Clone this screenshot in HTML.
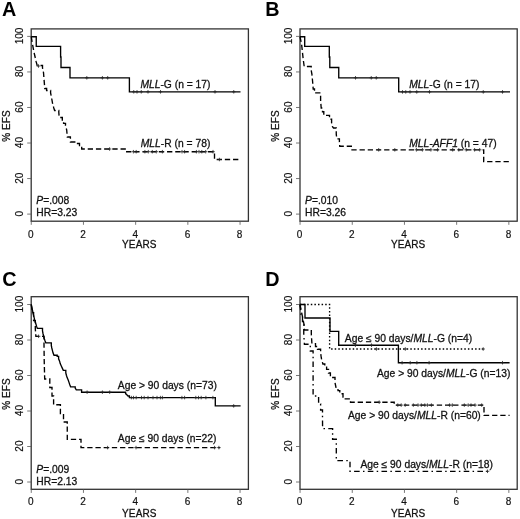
<!DOCTYPE html>
<html><head><meta charset="utf-8"><title>EFS</title>
<style>
html,body{margin:0;padding:0;background:#fff;}
body{width:520px;height:519px;overflow:hidden;}
svg{display:block;will-change:transform;}
text{font-family:"Liberation Sans",sans-serif;fill:#111;stroke:#111;stroke-width:0.28px;}
.ax{font-size:10px;letter-spacing:0.1px;}
.tk{font-size:10px;stroke-width:0.18px;}
.an{font-size:10.3px;}
.it{font-style:italic;}
.pl{font-size:19.8px;font-weight:bold;fill:#000;stroke:none;}
</style></head><body>
<svg width="520" height="519" viewBox="0 0 520 519">
<rect width="520" height="519" fill="#fff"/>
<rect x="31.20" y="28.90" width="217.20" height="192.30" fill="none" stroke="#333" stroke-width="1.3"/><path d="M31.25,221.20V224.80M83.45,221.20V224.80M135.65,221.20V224.80M187.85,221.20V224.80M240.05,221.20V224.80M31.20,214.10H27.20M31.20,178.56H27.20M31.20,143.02H27.20M31.20,107.48H27.20M31.20,71.94H27.20M31.20,36.40H27.20" stroke="#555" stroke-width="0.8" fill="none"/><text x="30.85" y="237.70" text-anchor="middle" class="tk">0</text><text x="83.05" y="237.70" text-anchor="middle" class="tk">2</text><text x="135.25" y="237.70" text-anchor="middle" class="tk">4</text><text x="187.45" y="237.70" text-anchor="middle" class="tk">6</text><text x="239.65" y="237.70" text-anchor="middle" class="tk">8</text><text x="139.30" y="248.30" text-anchor="middle" class="ax">YEARS</text><text transform="translate(22.70,213.70) rotate(-90)" text-anchor="middle" class="tk">0</text><text transform="translate(22.70,178.16) rotate(-90)" text-anchor="middle" class="tk">20</text><text transform="translate(22.70,142.62) rotate(-90)" text-anchor="middle" class="tk">40</text><text transform="translate(22.70,107.08) rotate(-90)" text-anchor="middle" class="tk">60</text><text transform="translate(22.70,71.54) rotate(-90)" text-anchor="middle" class="tk">80</text><text transform="translate(22.70,36.00) rotate(-90)" text-anchor="middle" class="tk">100</text><text transform="translate(10.20,126.05) rotate(-90)" text-anchor="middle" class="ax">% EFS</text><text x="1.9" y="15.9" class="pl">A</text>
<path d="M31.25,36.7H36.25V46.4H60.6V57H61V67.5H70V77.8H129.4V91.8H240.5" fill="none" stroke="#000" stroke-width="1.35"/>
<path d="M86.80,76.05V79.55M85.05,77.80H88.55M102.40,76.05V79.55M100.65,77.80H104.15M107.70,76.05V79.55M105.95,77.80H109.45M133.75,90.05V93.55M132.00,91.80H135.50M137.00,90.05V93.55M135.25,91.80H138.75M141.25,90.05V93.55M139.50,91.80H143.00M148.00,90.05V93.55M146.25,91.80H149.75M160.50,90.05V93.55M158.75,91.80H162.25M215.00,90.05V93.55M213.25,91.80H216.75M233.75,90.05V93.55M232.00,91.80H235.50" fill="none" stroke="#222" stroke-width="0.8"/>
<path d="M31.25,36.70L32.00,41.30L32.80,45.80L33.60,50.30L34.40,54.00L35.20,57.50L36.20,61.90L37.20,65.50H42.50V68.00L43.50,72.50L44.00,79.00L44.80,88.50H46.60V90.50H50.60V93.00L51.60,98.00L52.60,103.50L53.80,108.00L54.60,110.50H58.80V112.30L59.20,117.50H62.30V120.00H63.60V123.30H65.50V125.60L66.70,130.00L67.30,137.00H70.40V142.00H76.50V143.50H79.50V145.50H81.70V149.00H126.00V151.70H214.50V159.50H241.00" fill="none" stroke="#000" stroke-width="1.35" stroke-dasharray="5.3 2.9"/>
<path d="M109.60,147.25V150.75M107.85,149.00H111.35M133.40,149.95V153.45M131.65,151.70H135.15M136.20,149.95V153.45M134.45,151.70H137.95M144.90,149.95V153.45M143.15,151.70H146.65M148.30,149.95V153.45M146.55,151.70H150.05M152.30,149.95V153.45M150.55,151.70H154.05M156.30,149.95V153.45M154.55,151.70H158.05M162.40,149.95V153.45M160.65,151.70H164.15M182.00,149.95V153.45M180.25,151.70H183.75M184.60,149.95V153.45M182.85,151.70H186.35M196.40,149.95V153.45M194.65,151.70H198.15M199.00,149.95V153.45M197.25,151.70H200.75M201.80,149.95V153.45M200.05,151.70H203.55M205.70,149.95V153.45M203.95,151.70H207.45M213.00,149.95V153.45M211.25,151.70H214.75M219.40,157.75V161.25M217.65,159.50H221.15M38.50,64.25V67.75M36.75,66.00H40.25" fill="none" stroke="#222" stroke-width="0.8"/>
<text x="140.4" y="87.8" class="an"><tspan class="it">MLL</tspan>-G (n = 17)</text>
<text x="140.8" y="147.1" class="an"><tspan class="it">MLL</tspan>-R (n = 78)</text>
<text x="36.3" y="204.0" class="an"><tspan class="it">P</tspan>=.008</text>
<text x="36.3" y="216.3" class="an">HR=3.23</text>
<rect x="300.00" y="28.90" width="217.20" height="192.30" fill="none" stroke="#333" stroke-width="1.3"/><path d="M300.05,221.20V224.80M352.25,221.20V224.80M404.45,221.20V224.80M456.65,221.20V224.80M508.85,221.20V224.80M300.00,214.10H296.00M300.00,178.56H296.00M300.00,143.02H296.00M300.00,107.48H296.00M300.00,71.94H296.00M300.00,36.40H296.00" stroke="#555" stroke-width="0.8" fill="none"/><text x="299.65" y="237.70" text-anchor="middle" class="tk">0</text><text x="351.85" y="237.70" text-anchor="middle" class="tk">2</text><text x="404.05" y="237.70" text-anchor="middle" class="tk">4</text><text x="456.25" y="237.70" text-anchor="middle" class="tk">6</text><text x="508.45" y="237.70" text-anchor="middle" class="tk">8</text><text x="408.10" y="248.30" text-anchor="middle" class="ax">YEARS</text><text transform="translate(291.50,213.70) rotate(-90)" text-anchor="middle" class="tk">0</text><text transform="translate(291.50,178.16) rotate(-90)" text-anchor="middle" class="tk">20</text><text transform="translate(291.50,142.62) rotate(-90)" text-anchor="middle" class="tk">40</text><text transform="translate(291.50,107.08) rotate(-90)" text-anchor="middle" class="tk">60</text><text transform="translate(291.50,71.54) rotate(-90)" text-anchor="middle" class="tk">80</text><text transform="translate(291.50,36.00) rotate(-90)" text-anchor="middle" class="tk">100</text><text transform="translate(279.00,126.05) rotate(-90)" text-anchor="middle" class="ax">% EFS</text><text x="265.3" y="15.9" class="pl">B</text>
<path d="M300,36.7H304.7V46.4H329.3V57H329.8V67.5H338.75V77.8H398.7V91.9H510" fill="none" stroke="#000" stroke-width="1.35"/>
<path d="M355.50,76.05V79.55M353.75,77.80H357.25M371.25,76.05V79.55M369.50,77.80H373.00M376.25,76.05V79.55M374.50,77.80H378.00M402.50,90.15V93.65M400.75,91.90H404.25M405.75,90.15V93.65M404.00,91.90H407.50M410.00,90.15V93.65M408.25,91.90H411.75M416.75,90.15V93.65M415.00,91.90H418.50M429.50,90.15V93.65M427.75,91.90H431.25M483.25,90.15V93.65M481.50,91.90H485.00M502.50,90.15V93.65M500.75,91.90H504.25" fill="none" stroke="#222" stroke-width="0.8"/>
<path d="M300.00,36.70L300.80,40.50L301.60,44.30L302.40,51.80L303.20,59.30L304.20,66.50H311.20V70.30L311.90,74.00L312.60,81.50L313.20,89.00H314.50V92.90H320.60V100.40L321.20,108.00H322.50V111.70H323.80V115.40H329.50V119.20H331.60V123.00L332.50,126.70L333.50,128.00H336.25V134.20L336.80,138.80H339.40V142.00L339.75,146.20H351.30V149.80H483.70V161.60H510.00" fill="none" stroke="#000" stroke-width="1.35" stroke-dasharray="5.3 2.9"/>
<path d="M378.70,148.05V151.55M376.95,149.80H380.45M394.80,148.05V151.55M393.05,149.80H396.55M416.40,148.05V151.55M414.65,149.80H418.15M422.40,148.05V151.55M420.65,149.80H424.15M430.90,148.05V151.55M429.15,149.80H432.65M437.60,148.05V151.55M435.85,149.80H439.35M452.70,148.05V151.55M450.95,149.80H454.45M458.80,148.05V151.55M457.05,149.80H460.55M466.20,148.05V151.55M464.45,149.80H467.95M474.60,148.05V151.55M472.85,149.80H476.35M479.70,148.05V151.55M477.95,149.80H481.45" fill="none" stroke="#222" stroke-width="0.8"/>
<text x="409.3" y="87.8" class="an"><tspan class="it">MLL</tspan>-G (n = 17)</text>
<text x="409.3" y="146.7" class="an"><tspan class="it">MLL-AFF1</tspan> (n = 47)</text>
<text x="305.1" y="204.0" class="an"><tspan class="it">P</tspan>=.010</text>
<text x="305.1" y="216.3" class="an">HR=3.26</text>
<rect x="31.20" y="296.70" width="217.20" height="192.60" fill="none" stroke="#333" stroke-width="1.3"/><path d="M31.25,489.30V492.90M83.45,489.30V492.90M135.65,489.30V492.90M187.85,489.30V492.90M240.05,489.30V492.90M31.20,482.00H27.20M31.20,446.50H27.20M31.20,411.00H27.20M31.20,375.50H27.20M31.20,340.00H27.20M31.20,304.50H27.20" stroke="#555" stroke-width="0.8" fill="none"/><text x="30.85" y="505.40" text-anchor="middle" class="tk">0</text><text x="83.05" y="505.40" text-anchor="middle" class="tk">2</text><text x="135.25" y="505.40" text-anchor="middle" class="tk">4</text><text x="187.45" y="505.40" text-anchor="middle" class="tk">6</text><text x="239.65" y="505.40" text-anchor="middle" class="tk">8</text><text x="139.30" y="516.80" text-anchor="middle" class="ax">YEARS</text><text transform="translate(22.70,481.60) rotate(-90)" text-anchor="middle" class="tk">0</text><text transform="translate(22.70,446.10) rotate(-90)" text-anchor="middle" class="tk">20</text><text transform="translate(22.70,410.60) rotate(-90)" text-anchor="middle" class="tk">40</text><text transform="translate(22.70,375.10) rotate(-90)" text-anchor="middle" class="tk">60</text><text transform="translate(22.70,339.60) rotate(-90)" text-anchor="middle" class="tk">80</text><text transform="translate(22.70,304.10) rotate(-90)" text-anchor="middle" class="tk">100</text><text transform="translate(10.20,394.00) rotate(-90)" text-anchor="middle" class="ax">% EFS</text><text x="2.2" y="286.0" class="pl">C</text>
<path d="M31.25,304.50L31.80,307.00L32.30,309.40L32.80,311.80L33.30,314.30L33.90,316.70L34.50,319.10L35.20,321.50L35.90,324.00L36.60,326.40L37.30,328.30H42.50V331.00L43.00,333.50L43.60,336.00L44.20,338.40L45.00,340.80L45.80,342.80H51.30V345.50L51.80,348.00L52.40,350.40L53.00,352.80L54.00,355.20H57.20V356.40H58.60V358.80L59.60,361.20L60.20,363.60L61.30,366.00L62.40,368.40L63.30,370.40H65.80V372.80L66.40,375.20L67.10,377.60L68.20,380.00L69.00,382.40L69.80,384.80L70.60,386.80H75.20V388.00L76.30,389.80H81.60V392.20H125.60V393.60L126.80,394.80L128.00,396.00H129.40V397.60H215.30V405.90H240.60" fill="none" stroke="#000" stroke-width="1.35"/>
<path d="M87.10,390.45V393.95M85.35,392.20H88.85M102.40,390.45V393.95M100.65,392.20H104.15M109.70,390.45V393.95M107.95,392.20H111.45M131.40,395.85V399.35M129.65,397.60H133.15M133.50,395.85V399.35M131.75,397.60H135.25M136.20,395.85V399.35M134.45,397.60H137.95M141.50,395.85V399.35M139.75,397.60H143.25M144.20,395.85V399.35M142.45,397.60H145.95M148.00,395.85V399.35M146.25,397.60H149.75M153.00,395.85V399.35M151.25,397.60H154.75M157.00,395.85V399.35M155.25,397.60H158.75M160.40,395.85V399.35M158.65,397.60H162.15M162.40,395.85V399.35M160.65,397.60H164.15M181.90,395.85V399.35M180.15,397.60H183.65M184.60,395.85V399.35M182.85,397.60H186.35M195.80,395.85V399.35M194.05,397.60H197.55M198.50,395.85V399.35M196.75,397.60H200.25M201.20,395.85V399.35M199.45,397.60H202.95M205.90,395.85V399.35M204.15,397.60H207.65M212.90,395.85V399.35M211.15,397.60H214.65M233.70,404.15V407.65M231.95,405.90H235.45" fill="none" stroke="#222" stroke-width="0.8"/>
<path d="M31.25,304.50L32.30,312.60H33.60V320.60H35.30V328.70L35.90,336.30H44.00V344.00L44.10,352.00L44.20,360.00L44.40,368.00L44.70,379.00H49.80V387.50H52.00V396.00H53.60V404.75H60.40V413.50H63.50V422.00H67.25V430.50L67.30,439.40H81.00V447.60H219.80" fill="none" stroke="#000" stroke-width="1.35" stroke-dasharray="5.3 2.9"/>
<path d="M107.60,445.85V449.35M105.85,447.60H109.35M136.00,445.85V449.35M134.25,447.60H137.75M214.60,445.85V449.35M212.85,447.60H216.35M218.90,445.85V449.35M217.15,447.60H220.65M38.60,334.55V338.05M36.85,336.30H40.35" fill="none" stroke="#222" stroke-width="0.8"/>
<text x="117.8" y="388.9" class="an">Age &gt; 90 days (n=73)</text>
<text x="117.8" y="442.3" class="an">Age ≤ 90 days (n=22)</text>
<text x="36.3" y="472.8" class="an"><tspan class="it">P</tspan>=.009</text>
<text x="36.3" y="484.7" class="an">HR=2.13</text>
<rect x="300.00" y="296.70" width="217.20" height="192.60" fill="none" stroke="#333" stroke-width="1.3"/><path d="M300.05,489.30V492.90M352.25,489.30V492.90M404.45,489.30V492.90M456.65,489.30V492.90M508.85,489.30V492.90M300.00,482.00H296.00M300.00,446.50H296.00M300.00,411.00H296.00M300.00,375.50H296.00M300.00,340.00H296.00M300.00,304.50H296.00" stroke="#555" stroke-width="0.8" fill="none"/><text x="299.65" y="505.40" text-anchor="middle" class="tk">0</text><text x="351.85" y="505.40" text-anchor="middle" class="tk">2</text><text x="404.05" y="505.40" text-anchor="middle" class="tk">4</text><text x="456.25" y="505.40" text-anchor="middle" class="tk">6</text><text x="508.45" y="505.40" text-anchor="middle" class="tk">8</text><text x="408.10" y="516.80" text-anchor="middle" class="ax">YEARS</text><text transform="translate(291.50,481.60) rotate(-90)" text-anchor="middle" class="tk">0</text><text transform="translate(291.50,446.10) rotate(-90)" text-anchor="middle" class="tk">20</text><text transform="translate(291.50,410.60) rotate(-90)" text-anchor="middle" class="tk">40</text><text transform="translate(291.50,375.10) rotate(-90)" text-anchor="middle" class="tk">60</text><text transform="translate(291.50,339.60) rotate(-90)" text-anchor="middle" class="tk">80</text><text transform="translate(291.50,304.10) rotate(-90)" text-anchor="middle" class="tk">100</text><text transform="translate(279.00,394.00) rotate(-90)" text-anchor="middle" class="ax">% EFS</text><text x="265.3" y="286.0" class="pl">D</text>
<path d="M300,304.5H329.6V349.0H483.2" fill="none" stroke="#000" stroke-width="1.35" stroke-dasharray="1.5 2.1"/>
<path d="M376.40,347.25V350.75M374.65,349.00H378.15M405.30,347.25V350.75M403.55,349.00H407.05M483.20,347.25V350.75M481.45,349.00H484.95" fill="none" stroke="#222" stroke-width="0.8"/>
<path d="M300,304.5H305V318H330V331.3H338.7V345.2H398.4V362.7H509.6" fill="none" stroke="#000" stroke-width="1.35"/>
<path d="M402.10,360.95V364.45M400.35,362.70H403.85M410.20,360.95V364.45M408.45,362.70H411.95M416.90,360.95V364.45M415.15,362.70H418.65M429.10,360.95V364.45M427.35,362.70H430.85M502.50,360.95V364.45M500.75,362.70H504.25M355.40,343.45V346.95M353.65,345.20H357.15M371.50,343.45V346.95M369.75,345.20H373.25" fill="none" stroke="#222" stroke-width="0.8"/>
<path d="M300.00,304.50L300.60,307.50L301.20,310.40L301.80,313.40L302.40,316.30L303.00,319.30L303.60,322.30L304.20,325.20L304.50,330.00H311.30V333.60L311.60,338.60L311.90,343.60H315.50V346.50H317.50V349.20H320.60V352.00L320.90,355.00L321.30,358.00L321.90,360.50L322.90,364.00H324.80V366.00H326.60V369.40H328.50V373.00H330.40V377.50H335.00V382.50L335.60,385.50L336.20,388.75H338.00V390.60H339.80V393.75H343.00V397.00H344.40V398.90H350.50V402.20H394.20V405.10H484.00V415.40H509.60" fill="none" stroke="#000" stroke-width="1.35" stroke-dasharray="5.3 2.9"/>
<path d="M379.20,400.45V403.95M377.45,402.20H380.95M397.80,403.35V406.85M396.05,405.10H399.55M401.20,403.35V406.85M399.45,405.10H402.95M405.20,403.35V406.85M403.45,405.10H406.95M413.30,403.35V406.85M411.55,405.10H415.05M418.00,403.35V406.85M416.25,405.10H419.75M421.30,403.35V406.85M419.55,405.10H423.05M424.80,403.35V406.85M423.05,405.10H426.55M427.40,403.35V406.85M425.65,405.10H429.15M431.40,403.35V406.85M429.65,405.10H433.15M449.60,403.35V406.85M447.85,405.10H451.35M452.30,403.35V406.85M450.55,405.10H454.05M464.30,403.35V406.85M462.55,405.10H466.05M468.20,403.35V406.85M466.45,405.10H469.95M471.00,403.35V406.85M469.25,405.10H472.75M475.00,403.35V406.85M473.25,405.10H476.75M481.70,403.35V406.85M479.95,405.10H483.45" fill="none" stroke="#222" stroke-width="0.8"/>
<path d="M300.00,304.50L301.00,314.40H302.50V324.20H303.75V334.10L304.40,344.20H310.30V351.00H313.10V396.00H318.60V404.00H320.60V410.00H322.50V419.00L322.60,428.60H332.60V439.20H336.30V460.60H350.00V471.30H487.50" fill="none" stroke="#000" stroke-width="1.35" stroke-dasharray="5.6 3.3 1.5 3.3"/>
<path d="M487.50,469.55V473.05M485.75,471.30H489.25" fill="none" stroke="#222" stroke-width="0.8"/>
<text x="344.8" y="341.7" class="an">Age ≤ 90 days/<tspan class="it">MLL</tspan>-G (n=4)</text>
<text x="377.0" y="376.5" class="an">Age &gt; 90 days/<tspan class="it">MLL</tspan>-G (n=13)</text>
<text x="348.0" y="418.5" class="an">Age &gt; 90 days/<tspan class="it">MLL</tspan>-R (n=60)</text>
<text x="360.4" y="468.2" class="an">Age ≤ 90 days/<tspan class="it">MLL</tspan>-R (n=18)</text>
</svg>
</body></html>
